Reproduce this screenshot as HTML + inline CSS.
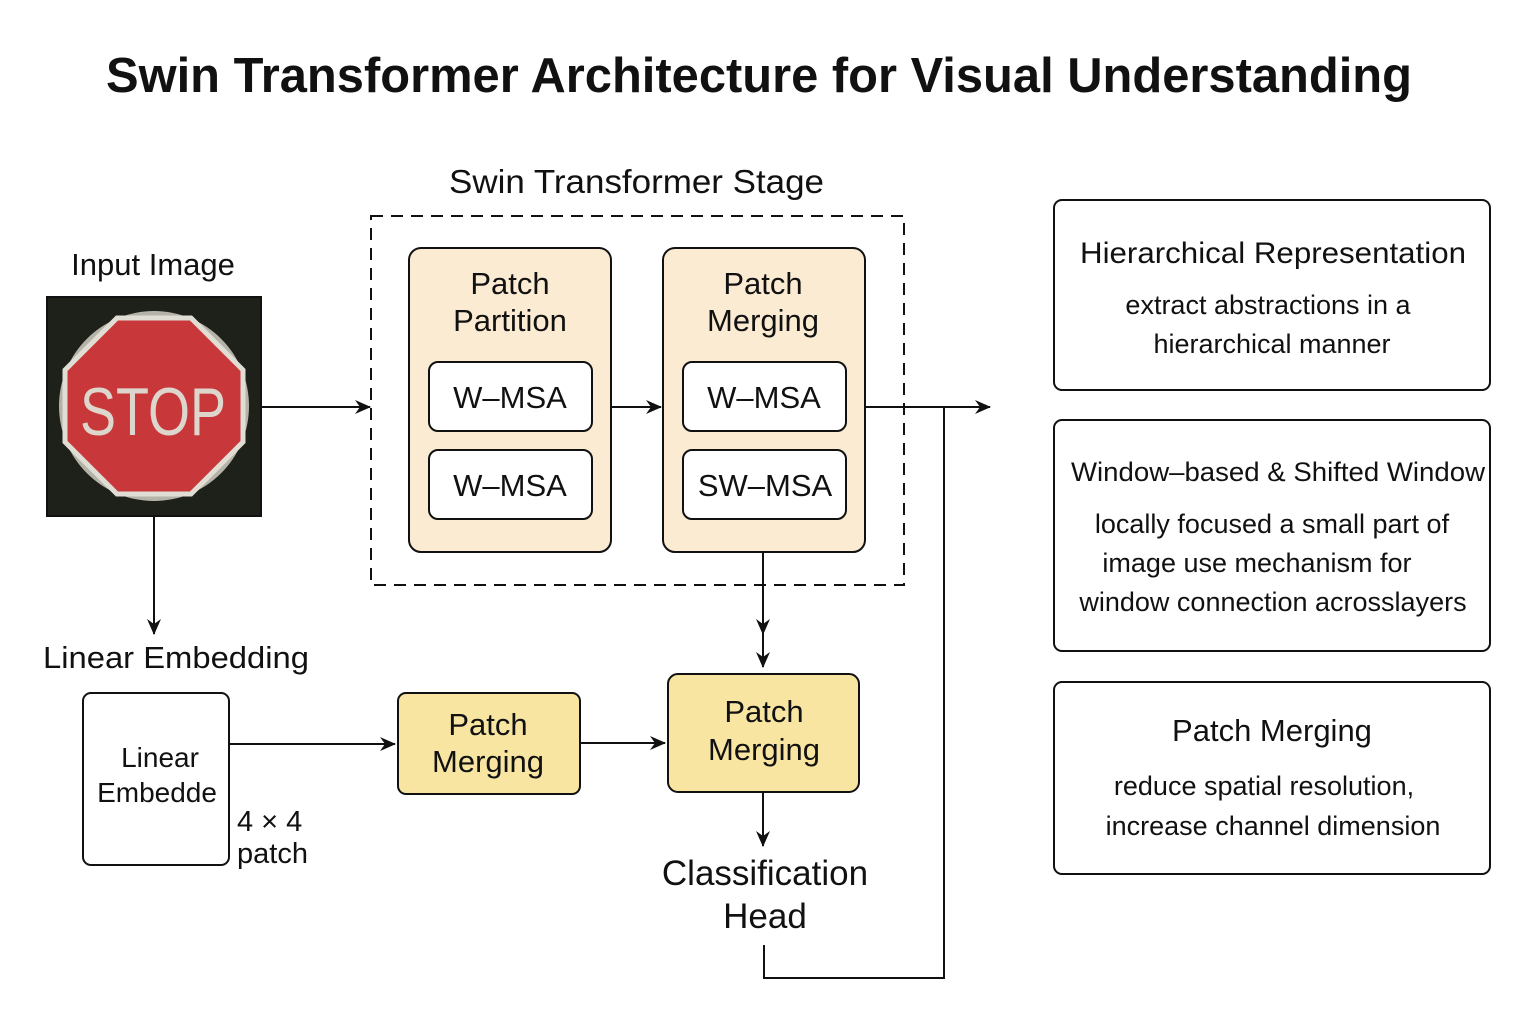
<!DOCTYPE html>
<html><head><meta charset="utf-8"><style>
html,body{margin:0;padding:0;background:#fff}
svg{display:block}
text{font-family:"Liberation Sans","DejaVu Sans",sans-serif;fill:#111}
</style></head><body>
<svg width="1536" height="1024" viewBox="0 0 1536 1024" xmlns="http://www.w3.org/2000/svg">
<defs>
<marker id="a" markerWidth="16" markerHeight="14" refX="15" refY="7" orient="auto" markerUnits="userSpaceOnUse">
<path d="M0,0 L16,7 L0,14 L5,7 Z" fill="#111"/></marker>
</defs>
<text x="106" y="92" font-size="49" font-weight="bold" textLength="1306" lengthAdjust="spacingAndGlyphs">Swin Transformer Architecture for Visual Understanding</text>

<text x="449" y="193" font-size="33" textLength="375" lengthAdjust="spacingAndGlyphs">Swin Transformer Stage</text>
<text x="153" y="275" font-size="31" text-anchor="middle">Input Image</text>

<!-- image -->
<rect x="47" y="297" width="214" height="219" fill="#1e2119" stroke="#111" stroke-width="2"/>
<circle cx="154" cy="406" r="95" fill="#b5b3a8"/>
<polygon points="117,318 191,318 243,370 243,442 191,494 117,494 65,442 65,370" fill="#c8383a" stroke="#e0ddd4" stroke-width="5"/>
<text x="80" y="435" font-size="68" textLength="146" lengthAdjust="spacingAndGlyphs" style="fill:#ddd6cc">STOP</text>

<!-- dashed stage -->
<rect x="371" y="216" width="533" height="369" fill="none" stroke="#111" stroke-width="2" stroke-dasharray="12,8"/>

<rect x="409" y="248" width="202" height="304" rx="12" fill="#fcebd3" stroke="#111" stroke-width="2"/>
<text x="510" y="294" font-size="31" text-anchor="middle">Patch</text>
<text x="510" y="331" font-size="31" text-anchor="middle">Partition</text>
<rect x="429" y="362" width="163" height="69" rx="9" fill="#fff" stroke="#111" stroke-width="2"/>
<text x="510" y="408" font-size="31" text-anchor="middle">W–MSA</text>
<rect x="429" y="450" width="163" height="69" rx="9" fill="#fff" stroke="#111" stroke-width="2"/>
<text x="510" y="496" font-size="31" text-anchor="middle">W–MSA</text>

<rect x="663" y="248" width="202" height="304" rx="12" fill="#fcebd3" stroke="#111" stroke-width="2"/>
<text x="763" y="294" font-size="31" text-anchor="middle">Patch</text>
<text x="763" y="331" font-size="31" text-anchor="middle">Merging</text>
<rect x="683" y="362" width="163" height="69" rx="9" fill="#fff" stroke="#111" stroke-width="2"/>
<text x="764" y="408" font-size="31" text-anchor="middle">W–MSA</text>
<rect x="683" y="450" width="163" height="69" rx="9" fill="#fff" stroke="#111" stroke-width="2"/>
<text x="765" y="496" font-size="31" text-anchor="middle">SW–MSA</text>

<!-- arrows -->
<line x1="262" y1="407" x2="370" y2="407" stroke="#111" stroke-width="2" marker-end="url(#a)"/>
<line x1="611" y1="407" x2="661" y2="407" stroke="#111" stroke-width="2" marker-end="url(#a)"/>
<line x1="865" y1="407" x2="990" y2="407" stroke="#111" stroke-width="2" marker-end="url(#a)"/>
<line x1="763" y1="552" x2="763" y2="634" stroke="#111" stroke-width="2" marker-end="url(#a)"/>
<line x1="763" y1="630" x2="763" y2="667" stroke="#111" stroke-width="2" marker-end="url(#a)"/>
<line x1="154" y1="516" x2="154" y2="634" stroke="#111" stroke-width="2" marker-end="url(#a)"/>
<polyline points="944,407 944,978 764,978 764,945" fill="none" stroke="#111" stroke-width="2"/>

<text x="176" y="668" font-size="31" text-anchor="middle" textLength="266" lengthAdjust="spacingAndGlyphs">Linear Embedding</text>
<rect x="83" y="693" width="146" height="172" rx="8" fill="#fff" stroke="#111" stroke-width="2"/>
<text x="160" y="767" font-size="28" text-anchor="middle">Linear</text>
<text x="157" y="802" font-size="28" text-anchor="middle">Embedde</text>
<text x="237" y="831" font-size="29">4 × 4</text>
<text x="237" y="863" font-size="29">patch</text>
<line x1="229" y1="744" x2="395" y2="744" stroke="#111" stroke-width="2" marker-end="url(#a)"/>

<rect x="398" y="693" width="182" height="101" rx="8" fill="#f8e5a2" stroke="#111" stroke-width="2"/>
<text x="488" y="735" font-size="31" text-anchor="middle">Patch</text>
<text x="488" y="772" font-size="31" text-anchor="middle">Merging</text>
<line x1="580" y1="743" x2="665" y2="743" stroke="#111" stroke-width="2" marker-end="url(#a)"/>

<rect x="668" y="674" width="191" height="118" rx="10" fill="#f8e5a2" stroke="#111" stroke-width="2"/>
<text x="764" y="722" font-size="31" text-anchor="middle">Patch</text>
<text x="764" y="760" font-size="31" text-anchor="middle">Merging</text>
<line x1="763" y1="792" x2="763" y2="846" stroke="#111" stroke-width="2" marker-end="url(#a)"/>
<text x="765" y="885" font-size="35" text-anchor="middle">Classification</text>
<text x="765" y="928" font-size="35" text-anchor="middle">Head</text>

<!-- right panels -->
<rect x="1054" y="200" width="436" height="190" rx="8" fill="#fff" stroke="#111" stroke-width="2"/>
<text x="1273" y="263" font-size="30" text-anchor="middle" textLength="386" lengthAdjust="spacingAndGlyphs">Hierarchical Representation</text>
<text x="1268" y="314" font-size="27" text-anchor="middle">extract abstractions in a</text>
<text x="1272" y="353" font-size="27" text-anchor="middle">hierarchical manner</text>

<rect x="1054" y="420" width="436" height="231" rx="8" fill="#fff" stroke="#111" stroke-width="2"/>
<text x="1278" y="481" font-size="27" text-anchor="middle" textLength="414" lengthAdjust="spacingAndGlyphs">Window–based &amp; Shifted Window</text>
<text x="1272" y="533" font-size="27" text-anchor="middle">locally focused a small part of</text>
<text x="1257" y="572" font-size="27" text-anchor="middle">image use mechanism for</text>
<text x="1273" y="611" font-size="27" text-anchor="middle">window connection acrosslayers</text>

<rect x="1054" y="682" width="436" height="192" rx="8" fill="#fff" stroke="#111" stroke-width="2"/>
<text x="1272" y="741" font-size="31" text-anchor="middle">Patch Merging</text>
<text x="1264" y="795" font-size="27" text-anchor="middle">reduce spatial resolution,</text>
<text x="1273" y="835" font-size="27" text-anchor="middle">increase channel dimension</text>
</svg>
</body></html>
